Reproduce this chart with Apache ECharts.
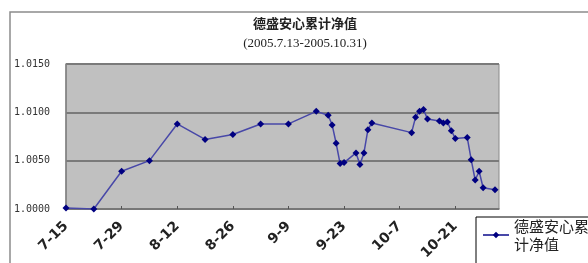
<!DOCTYPE html>
<html>
<head>
<meta charset="utf-8">
<script src="https://cdn.jsdelivr.net/npm/echarts@6/dist/echarts.min.js"></script>
<style>
  html, body { margin: 0; padding: 0; background: #fff; }
  #chart { width: 588px; height: 263px; }
</style>
</head>
<body>
<div id="chart"></div>
<script>
// 数据：交易日期与累计净值
var dates = ['2005-07-15','2005-07-22','2005-07-29','2005-08-05','2005-08-12','2005-08-19','2005-08-26',
  '2005-09-02','2005-09-09','2005-09-16','2005-09-19','2005-09-20','2005-09-21','2005-09-22','2005-09-23',
  '2005-09-26','2005-09-27','2005-09-28','2005-09-29','2005-09-30','2005-10-10','2005-10-11','2005-10-12',
  '2005-10-13','2005-10-14','2005-10-17','2005-10-18','2005-10-19','2005-10-20','2005-10-21','2005-10-24',
  '2005-10-25','2005-10-26','2005-10-27','2005-10-28','2005-10-31'];
var values = [1.0001,1.0000,1.0039,1.0050,1.0088,1.0072,1.0077,1.0088,1.0088,1.0101,
  1.0097,1.0087,1.0068,1.0047,1.0048,
  1.0058,1.0046,1.0058,1.0082,1.0089,
  1.0079,1.0095,1.0101,1.0103,1.0093,
  1.0091,1.0089,1.0090,1.0081,1.0073,
  1.0074,1.0051,1.0030,1.0039,1.0022,
  1.0020];
// x轴刻度标签（每14天）
var tickLabels = ['7-15','7-29','8-12','8-26','9-9','9-23','10-7','10-21'];
var seriesName = '德盛安心累计净值';

var DAY = 86400000;
var start = Date.UTC(2005, 6, 15);
function dayOffset(s) {
  var p = s.split('-');
  return (Date.UTC(+p[0], +p[1] - 1, +p[2]) - start) / DAY;
}
var points = [];
for (var i = 0; i < dates.length; i++) {
  points.push([dayOffset(dates[i]), values[i]]);
}

var myChart = echarts.init(document.getElementById('chart'));
var option = {
  backgroundColor: '#fff',
  animation: false,
  graphic: [
    // 外框
    {
      type: 'rect',
      shape: { x: 10, y: 12, width: 620, height: 300 },
      style: { fill: 'none', stroke: '#8c8c8c', lineWidth: 1.5 },
      z: -1
    },
    // 图例框
    {
      type: 'rect',
      shape: { x: 476, y: 217, width: 200, height: 100 },
      style: { fill: '#fff', stroke: '#000', lineWidth: 1 },
      z: 0
    }
  ],
  title: {
    text: seriesName,
    subtext: '(2005.7.13-2005.10.31)',
    left: 300,
    textAlign: 'center',
    top: 12,
    itemGap: 7,
    textStyle: { fontSize: 13, fontWeight: 'bold', color: '#222', fontFamily: 'Noto Sans CJK SC' },
    subtextStyle: { fontSize: 13, color: '#222', fontFamily: 'Liberation Serif' }
  },
  legend: {
    left: 482,
    top: 208,
    orient: 'vertical',
    padding: 0,
    itemWidth: 26,
    itemHeight: 8,
    formatter: function (name) { return name.slice(0, 5) + '\n' + name.slice(5); },
    textStyle: { fontSize: 15, lineHeight: 18, padding: [18, 0, 0, 0], color: '#222', fontFamily: 'Noto Sans CJK SC' },
    data: [seriesName],
    z: 5
  },
  grid: {
    left: 66,
    right: 89,
    top: 64,
    bottom: 54,
    show: true,
    backgroundColor: '#c0c0c0',
    borderColor: '#8a8a8a',
    borderWidth: 1
  },
  xAxis: {
    type: 'value',
    min: 0,
    max: 109,
    interval: 14,
    axisLine: { lineStyle: { color: '#777', width: 1.5 } },
    axisTick: { inside: true, length: 3, lineStyle: { color: '#555' } },
    splitLine: { show: false },
    axisLabel: {
      rotate: 45,
      margin: 15,
      showMaxLabel: false,
      fontSize: 14,
      fontWeight: 'bold',
      color: '#222',
      fontFamily: 'DejaVu Sans',
      formatter: function (v) { return tickLabels[Math.round(v / 14)] || ''; }
    }
  },
  yAxis: {
    type: 'value',
    min: 1.0,
    max: 1.015,
    interval: 0.005,
    axisLine: { show: true, lineStyle: { color: '#808080', width: 1.5 } },
    axisTick: { show: false },
    splitLine: { lineStyle: { color: '#7a7a7a', width: 2 } },
    axisLabel: {
      margin: 16,
      fontSize: 10,
      color: '#333',
      fontFamily: 'DejaVu Sans Mono',
      formatter: function (v) { return v.toFixed(4); }
    }
  },
  series: [{
    name: seriesName,
    type: 'line',
    data: points,
    symbol: 'diamond',
    symbolSize: 7,
    lineStyle: { color: '#4848a8', width: 1.5 },
    itemStyle: { color: '#000080' }
  }]
};
myChart.setOption(option);
</script>
</body>
</html>
